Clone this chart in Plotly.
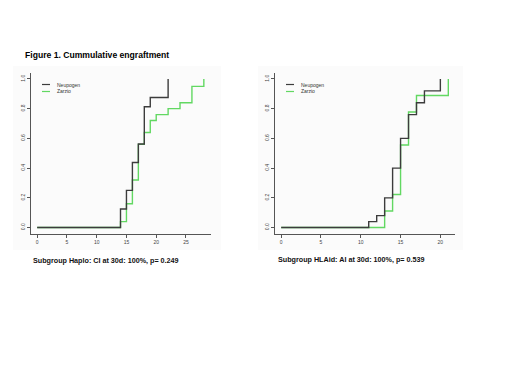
import plotly.graph_objects as go

# Left panel: Haplo subgroup
haplo_neu_t = [0, 14, 15, 16, 17, 18, 19, 22]
haplo_neu_y = [0.0, 0.125, 0.25, 0.4375, 0.5625, 0.8125, 0.875, 1.0]
haplo_zar_t = [0, 14, 15, 16, 17, 18, 19, 20, 22, 24, 26, 28]
haplo_zar_y = [0.0, 0.04, 0.16, 0.32, 0.56, 0.64, 0.72, 0.76, 0.80, 0.84, 0.95, 1.0]

# Right panel: HLAid subgroup
hla_neu_t = [0, 11, 12, 13, 14, 15, 16, 17, 18, 20]
hla_neu_y = [0.0, 0.04, 0.08, 0.20, 0.40, 0.60, 0.76, 0.84, 0.92, 1.0]
hla_zar_t = [0, 13, 14, 15, 16, 17, 21]
hla_zar_y = [0.0, 0.111, 0.222, 0.556, 0.778, 0.889, 1.0]

y_ticks = [0.0, 0.2, 0.4, 0.6, 0.8, 1.0]
left_xticks = [0, 5, 10, 15, 20, 25]
right_xticks = [0, 5, 10, 15, 20]

title_text = "Figure 1. Cummulative engraftment"
left_caption = "Subgroup Haplo: CI at 30d: 100%, p= 0.249"
right_caption = "Subgroup HLAid: AI at 30d: 100%, p= 0.539"
series_names = ["Neupogen", "Zarzio"]

# the page body has an 8px margin, so the figure is drawn 8px in from the window edge
OFF = 8
W, H = 520 - OFF, 390 - OFF
BLACK = "#3c3c3c"
GREEN = "#62d862"

def px_x(p):
    return (p - OFF) / W

def px_y(p):
    return 1 - (p - OFF) / H

fig = go.Figure()

def add_series(t, y, color, xa, ya):
    fig.add_trace(go.Scatter(x=t, y=y, mode="lines", line=dict(color=color, width=1.4, shape="hv"),
                             xaxis=xa, yaxis=ya, showlegend=False, hoverinfo="skip"))

add_series(haplo_zar_t, haplo_zar_y, GREEN, "x", "y")
add_series(haplo_neu_t, haplo_neu_y, BLACK, "x", "y")
add_series(hla_zar_t, hla_zar_y, GREEN, "x2", "y2")
add_series(hla_neu_t, hla_neu_y, BLACK, "x2", "y2")

tickfont = dict(family="Liberation Sans, Arial", size=5, color="#444")
axis_common = dict(showline=True, linecolor="#555", linewidth=1, ticks="outside", ticklen=3,
                   tickcolor="#555", showgrid=False, zeroline=False, tickfont=tickfont)

ydom = [px_y(233.5), px_y(73)]
fig.update_layout(
    width=W, height=H, margin=dict(l=0, r=0, t=0, b=0),
    paper_bgcolor="white", plot_bgcolor="rgba(0,0,0,0)",
    xaxis=dict(domain=[px_x(30.5), px_x(210.5)], range=[-1.12, 29.12], tickvals=left_xticks,
               anchor="y", **axis_common),
    yaxis=dict(domain=ydom, range=[-0.04, 1.04], tickvals=y_ticks, tickformat=".1f",
               tickangle=-90, anchor="x", **axis_common),
    xaxis2=dict(domain=[px_x(274.5), px_x(455)], range=[-0.84, 21.84], tickvals=right_xticks,
                anchor="y2", **axis_common),
    yaxis2=dict(domain=ydom, range=[-0.04, 1.04], tickvals=y_ticks, tickformat=".1f",
                tickangle=-90, anchor="x2", **axis_common),
)

# faint panel backgrounds
for x0, x1 in [(13, 221), (258, 463)]:
    fig.add_shape(type="rect", xref="paper", yref="paper", x0=px_x(x0), x1=px_x(x1),
                  y0=px_y(250), y1=px_y(66), fillcolor="#fbfbfb", line=dict(width=0), layer="below")

# legends (drawn as small line segments + text)
for (lx, names) in [(42, series_names), (286, series_names)]:
    for i, (nm, col) in enumerate(zip(names, [BLACK, GREEN])):
        yy = 84.5 + i * 7
        fig.add_shape(type="line", xref="paper", yref="paper", x0=px_x(lx), x1=px_x(lx + 8),
                      y0=px_y(yy), y1=px_y(yy), line=dict(color=col, width=1.2))
        fig.add_annotation(x=px_x(lx + 12.5), y=px_y(yy), xref="paper", yref="paper", text=nm,
                           showarrow=False, xanchor="left", yanchor="middle",
                           font=dict(family="Liberation Sans, Arial", size=5, color="#333"))

fig.add_annotation(x=px_x(23), y=px_y(54.5), xref="paper", yref="paper", text="<b>" + title_text + "</b>",
                   showarrow=False, xanchor="left", yanchor="middle",
                   font=dict(family="Liberation Sans, Arial", size=8.6, color="black"))

cap_font = dict(family="Liberation Sans, Arial", size=7.2, color="#111")
fig.add_annotation(x=px_x(31), y=px_y(260), xref="paper", yref="paper", text="<b>" + left_caption + "</b>",
                   showarrow=False, xanchor="left", yanchor="middle", font=cap_font)
fig.add_annotation(x=px_x(276), y=px_y(259), xref="paper", yref="paper", text="<b>" + right_caption + "</b>",
                   showarrow=False, xanchor="left", yanchor="middle", font=cap_font)

fig.write_html("out.html")
